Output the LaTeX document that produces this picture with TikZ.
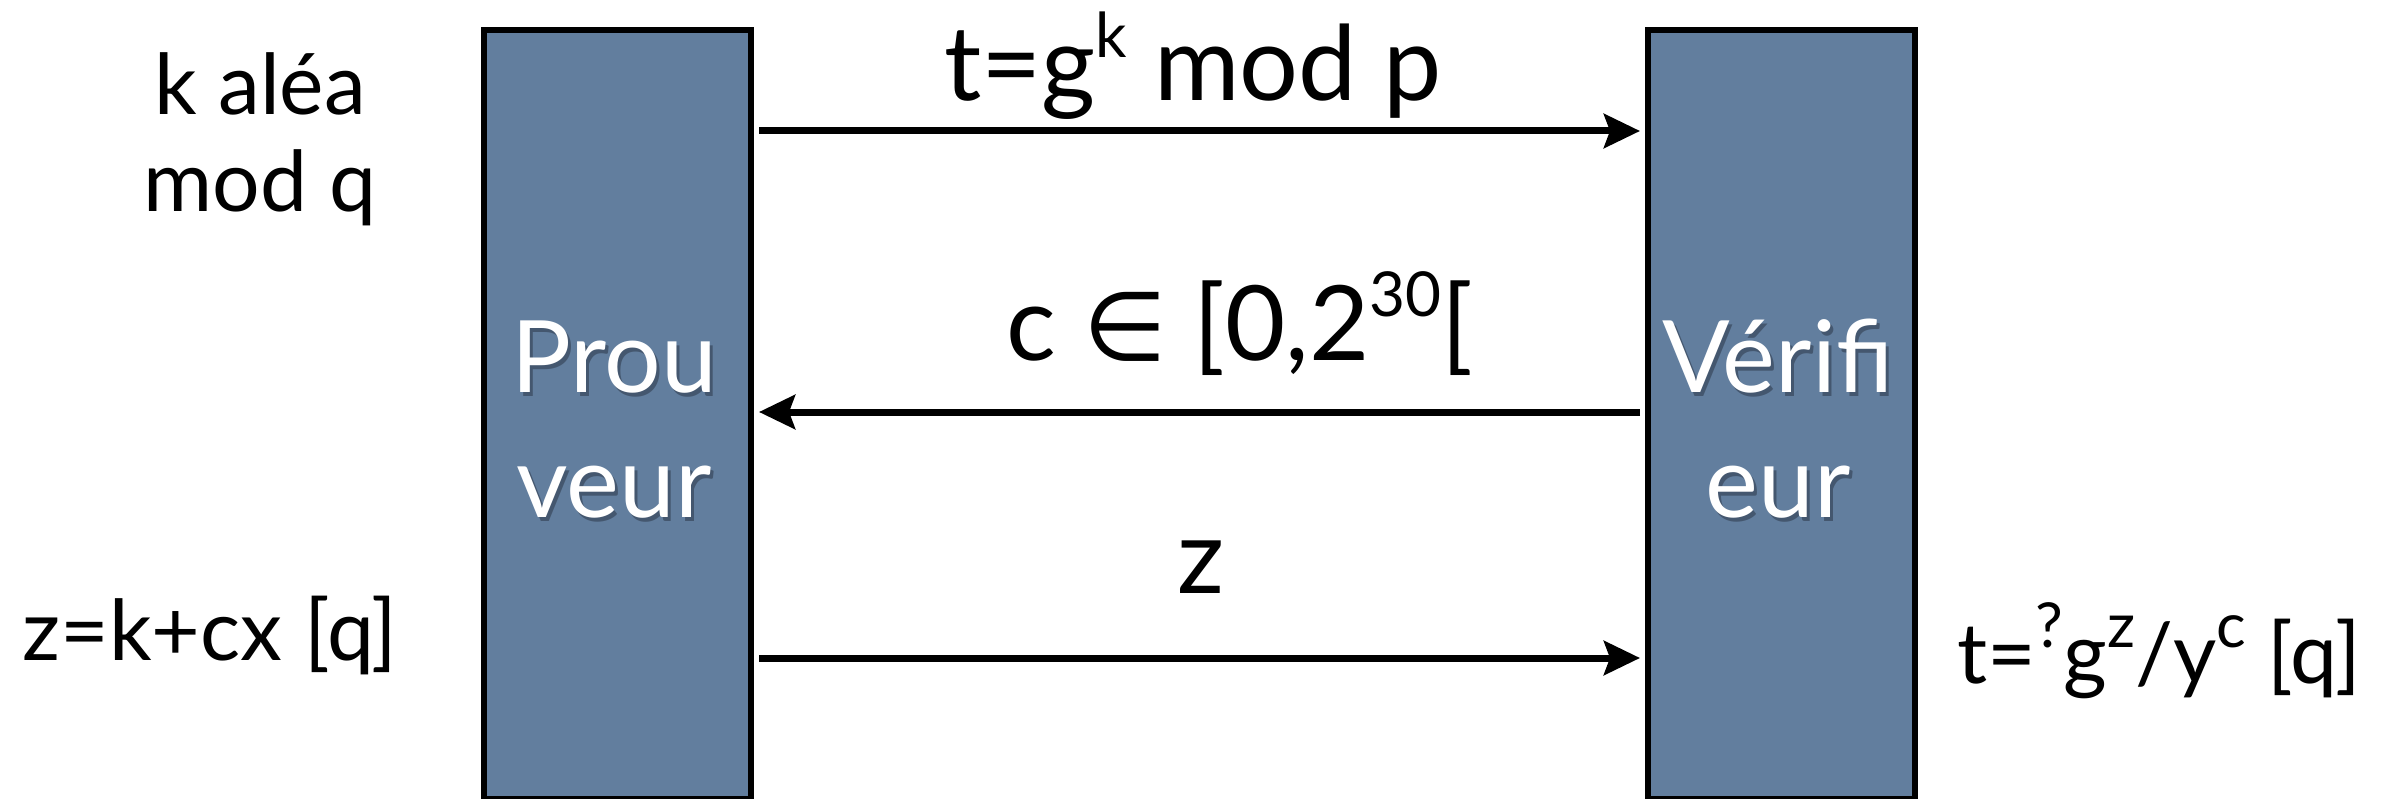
\documentclass[tikz,border=0pt]{standalone}
\usepackage{fontspec}
\setmainfont{Lato}
\newfontfamily\symfont{DejaVu Sans}
\usetikzlibrary{arrows.meta}
\definecolor{boxblue}{RGB}{98,126,158}
\definecolor{shadowc}{RGB}{40,50,65}
\newcommand{\sups}[1]{\raisebox{0.42em}{\fontsize{62}{62}\selectfont #1}}
\begin{document}
\begin{tikzpicture}[x=1pt,y=-1pt,
  actor/.style={draw=black, line width=6pt, fill=boxblue, minimum width=267pt, minimum height=769pt, inner sep=0pt, anchor=north west},
  arr/.style={line width=7pt, -{Stealth[length=36pt,width=34pt,inset=6pt]}},
  lbl/.style={anchor=base, inner sep=0pt, font=\fontsize{84}{96}\selectfont},
  big/.style={anchor=base, inner sep=0pt, font=\fontsize{104}{120}\selectfont},
  boxtxt/.style={anchor=base, inner sep=0pt, text=white, font=\fontsize{100}{125}\selectfont},
  boxshadow/.style={anchor=base, inner sep=0pt, text=shadowc, opacity=0.5, font=\fontsize{100}{125}\selectfont}]
\useasboundingbox (0,0) rectangle (2384,799);
% actors
\node[actor] (P) at (481,27) {};
\node[actor] (V) at (1645,27) {};
\node[boxshadow] (Psh1) at (617,396) {Prou};
\node[boxshadow] (Psh2) at (617,521) {veur};
\node[boxtxt] (P1) at (614,392) {Prou};
\node[boxtxt] (P2) at (614,517) {veur};
\node[boxshadow] (Vsh1) at (1781,396) {Vérifi};
\node[boxshadow] (Vsh2) at (1781,521) {eur};
\node[boxtxt] (V1) at (1778,392) {Vérifi};
\node[boxtxt] (V2) at (1778,517) {eur};
% arrows
\coordinate (a1) at (0,131);
\coordinate (a2) at (0,412);
\coordinate (a3) at (0,658);
\draw[arr] ([xshift=5pt]P.east |- a1) -- ([xshift=-5pt]V.west |- a1);
\draw[arr] ([xshift=-5pt]V.west |- a2) -- ([xshift=5pt]P.east |- a2);
\draw[arr] ([xshift=5pt]P.east |- a3) -- ([xshift=-5pt]V.west |- a3);
% message labels
\node[big] (m1) at (1193,101) {t=g\sups{k} mod p};
\node[big] (m2) at (1240,360) {c {\symfont\fontsize{96}{110}\selectfont ∈} [0,2\sups{30}[};
\node[big] (m3) at (1201,593) {z};
% side labels
\node[lbl] (s1) at (260,115) {k aléa};
\node[lbl] (s2) at (260,212) {mod q};
\node[lbl] (s3) at (210,660) {z=k+cx [q]};
\node[lbl] (s4) at (2159,683) {t=\sups{?}g\sups{z}/y\sups{c} [q]};
\end{tikzpicture}
\end{document}
